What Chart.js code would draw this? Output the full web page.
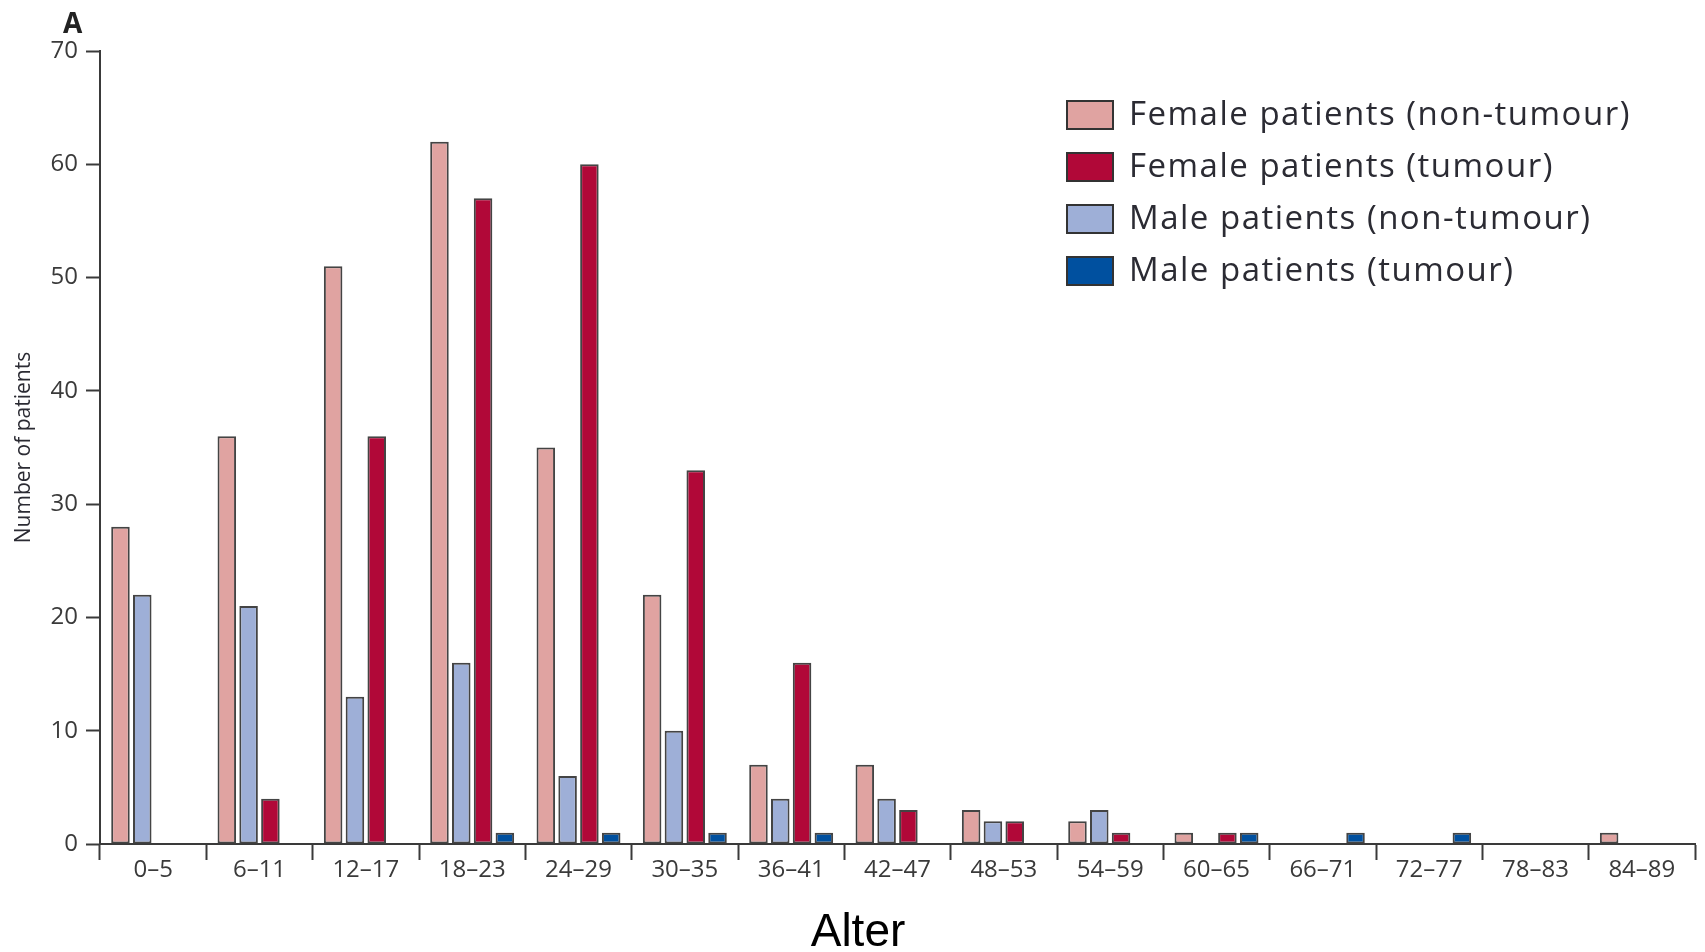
<!DOCTYPE html>
<html>
<head>
<meta charset="utf-8">
<script src="https://cdn.jsdelivr.net/npm/chart.js@4.4.1/dist/chart.umd.min.js"></script>
<style>
  html, body { margin: 0; padding: 0; background: #fff; }
  #wrap { width: 1705px; height: 952px; position: relative; }
</style>
</head>
<body>
<div id="wrap"><canvas id="ageChart"></canvas></div>
<script>
// Age groups on the x axis
const ageGroups = ['0–5', '6–11', '12–17', '18–23', '24–29', '30–35', '36–41', '42–47',
                   '48–53', '54–59', '60–65', '66–71', '72–77', '78–83', '84–89'];

// Patient counts per age group
const femaleNonTumour = [28, 36, 51, 62, 35, 22, 7, 7, 3, 2, 1, 0, 0, 0, 1];
const maleNonTumour   = [22, 21, 13, 16, 6, 10, 4, 4, 2, 3, 0, 0, 0, 0, 0];
const femaleTumour    = [0, 4, 36, 57, 60, 33, 16, 3, 2, 1, 1, 0, 0, 0, 0];
const maleTumour      = [0, 0, 0, 1, 1, 1, 1, 0, 0, 0, 1, 1, 1, 0, 0];

// y axis range
const yMax = 70;
const yStep = 10;

const INK = '#3a3a3a';
const FONT = '"Open Sans", "DejaVu Sans", sans-serif';

// legend lists the series in a different order than the bars
const legendOrder = [0, 2, 1, 3];

function makeDataset(label, data, color) {
    return {
        label: label,
        data: data,
        backgroundColor: color,
        borderColor: '#444',
        borderWidth: 2,
        borderSkipped: false,
        categoryPercentage: 0.82,
        barPercentage: 0.85
    };
}

// Legend box in the upper right, drawn from the datasets
const sideLegend = {
    id: 'sideLegend',
    afterDraw(chart) {
        const ctx = chart.ctx;
        ctx.save();
        ctx.font = '33px ' + FONT;
        ctx.letterSpacing = '1.5px';
        ctx.textBaseline = 'middle';
        ctx.textAlign = 'left';
        legendOrder.forEach((idx, row) => {
            const ds = chart.data.datasets[idx];
            const y = 115 + row * 52;
            ctx.fillStyle = ds.backgroundColor;
            ctx.fillRect(1067, y - 14, 46, 28);
            ctx.lineWidth = 2;
            ctx.strokeStyle = '#333';
            ctx.strokeRect(1067, y - 14, 46, 28);
            ctx.fillStyle = '#2b2b33';
            ctx.fillText(ds.label, 1129, y + 1);
        });
        ctx.restore();
    }
};

// Panel letter and the x axis title
const extraText = {
    id: 'extraText',
    afterDraw(chart) {
        const ctx = chart.ctx;
        ctx.save();
        ctx.fillStyle = '#222';
        ctx.font = 'bold 28px ' + FONT;
        ctx.textAlign = 'left';
        ctx.textBaseline = 'alphabetic';
        ctx.fillText('A', 63, 33);
        ctx.fillStyle = '#000';
        ctx.font = '46px "Liberation Sans", Arial, sans-serif';
        ctx.textAlign = 'center';
        ctx.fillText('Alter', 858, 946);
        ctx.restore();
    }
};

new Chart(document.getElementById('ageChart'), {
    type: 'bar',
    data: {
        labels: ageGroups,
        datasets: [
            makeDataset('Female patients (non-tumour)', femaleNonTumour, '#e0a3a1'),
            makeDataset('Male patients (non-tumour)', maleNonTumour, '#9eafd7'),
            makeDataset('Female patients (tumour)', femaleTumour, '#b10838'),
            makeDataset('Male patients (tumour)', maleTumour, '#00509f')
        ]
    },
    options: {
        responsive: true,
        maintainAspectRatio: false,
        animation: false,
        layout: { padding: { left: 0, right: 10, top: 51, bottom: 0 } },
        plugins: {
            legend: { display: false },
            tooltip: { enabled: false }
        },
        scales: {
            x: {
                afterFit: (scale) => { scale.height = 108; },
                border: { color: INK, width: 2 },
                grid: {
                    drawOnChartArea: false,
                    drawTicks: true,
                    tickLength: 16,
                    tickColor: INK,
                    tickWidth: 2
                },
                ticks: {
                    color: INK,
                    font: { family: FONT, size: 24 },
                    padding: -4,
                    maxRotation: 0,
                    autoSkip: false
                }
            },
            y: {
                min: 0,
                max: yMax,
                afterFit: (scale) => { scale.width = 100; },
                border: { color: INK, width: 2 },
                grid: {
                    drawOnChartArea: false,
                    drawTicks: true,
                    tickLength: 14,
                    tickColor: INK,
                    tickWidth: 2
                },
                ticks: {
                    stepSize: yStep,
                    color: INK,
                    font: { family: FONT, size: 24 },
                    padding: 8
                },
                title: {
                    display: true,
                    text: 'Number of patients',
                    color: '#2b2b33',
                    font: { family: FONT, size: 21 },
                    padding: { top: 11, bottom: 0 }
                }
            }
        }
    },
    plugins: [sideLegend, extraText]
});
</script>
</body>
</html>
